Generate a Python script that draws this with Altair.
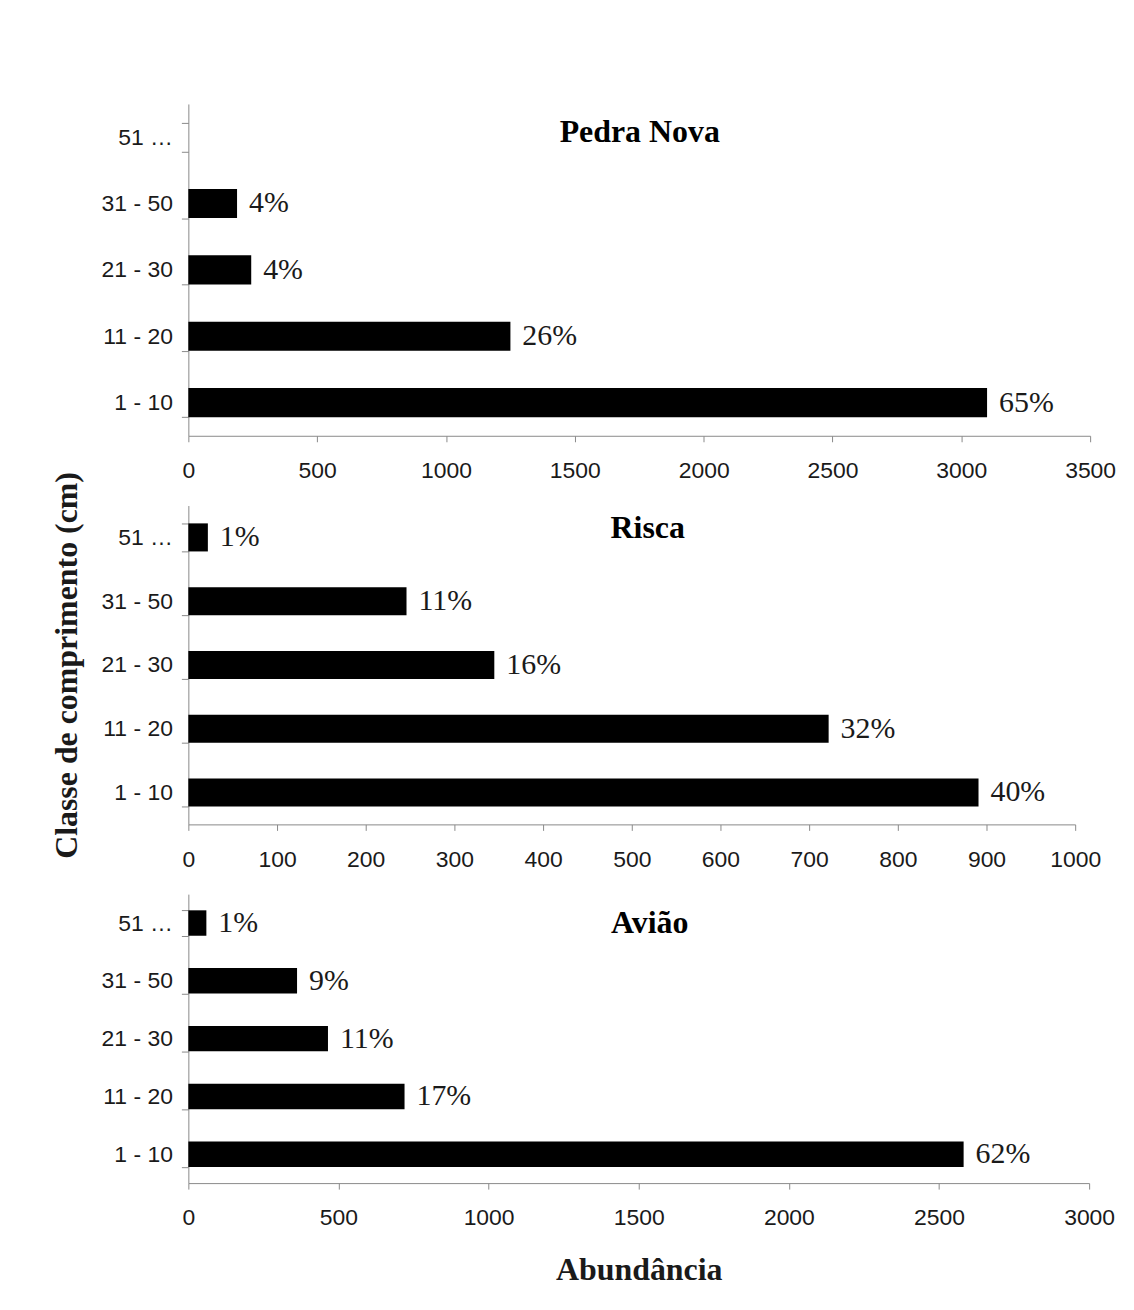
import altair as alt
import pandas as pd

classes = ["51 …", "31 - 50", "21 - 30", "11 - 20", "1 - 10"]

pedra_values = [0, 189, 244, 1250, 3100]
pedra_pct = ["", "4%", "4%", "26%", "65%"]

risca_values = [22, 246, 345, 722, 891]
risca_pct = ["1%", "11%", "16%", "32%", "40%"]

aviao_values = [60, 362, 465, 720, 2582]
aviao_pct = ["1%", "9%", "11%", "17%", "62%"]

SERIF = "Liberation Serif"
SANS = "Liberation Sans"


def panel(values, pct, name, xmax, step, w, h, tx, ty, ytitle=None, xtitle=None):
    df = pd.DataFrame({"classe": classes, "abund": values, "pct": pct})
    yaxis = alt.Axis(
        tickBand="extent", tickSize=7, labelPadding=9, labelFont=SANS,
        labelFontSize=23, labelColor="#1a1a1a", domainColor="#8a8a8a",
        tickColor="#8a8a8a", titleFont=SERIF, titleFontSize=32,
        titleFontWeight="bold", titleColor="#1a1a1a", titlePadding=18,
    )
    xaxis = alt.Axis(
        values=list(range(0, xmax + 1, step)), format="d", tickSize=6,
        labelPadding=18, labelFont=SANS, labelFontSize=23, labelColor="#1a1a1a",
        labelFlush=False, labelOverlap=False, domainColor="#8a8a8a",
        tickColor="#8a8a8a", grid=False, titleFont=SERIF, titleFontSize=32,
        titleFontWeight="bold", titleColor="#1a1a1a", titlePadding=25,
    )
    y = alt.Y("classe:N", sort=classes, title=ytitle,
              scale=alt.Scale(paddingInner=0.56, paddingOuter=0.28), axis=yaxis)
    x = alt.X("abund:Q", title=xtitle, scale=alt.Scale(domain=[0, xmax], nice=False),
              axis=xaxis)
    base = alt.Chart(df)
    bars = base.mark_bar(color="#000000").encode(x=x, y=y)
    labels = base.mark_text(align="left", baseline="middle", dx=12, font=SERIF,
                            fontSize=30, color="#1a1a1a").encode(x=x, y=y, text="pct:N")
    ttl = alt.Chart(alt.Data(values=[{"t": name}])).mark_text(
        font=SERIF, fontSize=32, fontWeight="bold", color="#000000",
        align="center", baseline="middle"
    ).encode(x=alt.value(tx), y=alt.value(ty), text="t:N")
    return alt.layer(bars, labels, ttl).properties(width=w, height=h)


p1 = panel(pedra_values, pedra_pct, "Pedra Nova", 3500, 500, 905, 333, 453, 28)
p2 = panel(risca_values, risca_pct, "Risca", 1000, 100, 890, 320, 461, 23,
           ytitle="Classe de comprimento (cm)")
p3 = panel(aviao_values, aviao_pct, "Avião", 3000, 500, 904, 290, 463, 29,
           xtitle="Abundância")

chart = alt.vconcat(p1, p2, p3, spacing=70, bounds="flush").properties(
    padding={"top": 83, "left": 42, "right": 10, "bottom": 10}
).configure_view(stroke=None)

chart.save("out.html", embed_options={"renderer": "svg", "actions": False})
